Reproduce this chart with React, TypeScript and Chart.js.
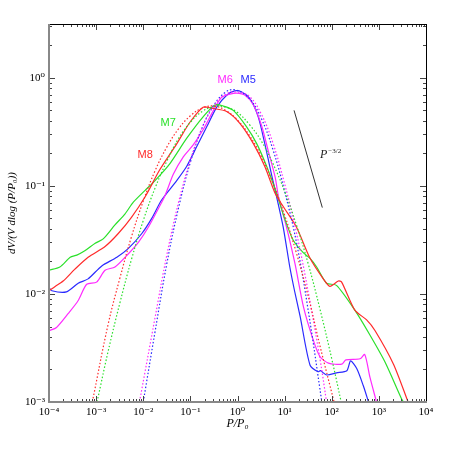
import React, { useEffect, useRef } from 'react';
import { Chart, registerables } from 'chart.js';

Chart.register(...registerables);

// Axis ranges
const X_MIN = 1e-4;
const X_MAX = 1e4;
const Y_MIN = 1e-3;
const Y_MAX = 3.16;

// All curve values are log10 of P/P0 and of dV/(V dlog(P/P0)).
// M5 (blue) simulation
const m5LogP = [-4, -3.94, -3.63, -3.38, -3.17, -2.88, -2.56, -2.32, -2.03, -1.82, -1.61, -1.29, -1.08, -0.87, -0.65, -0.44, -0.23, -0.06, 0.09, 0.26, 0.44, 0.58, 0.72, 0.83, 0.97, 1.11, 1.21, 1.33, 1.54, 1.71, 1.76, 1.89, 2.10, 2.32, 2.40, 2.53, 2.67, 2.78];
const m5LogV = [-1.94, -1.97, -1.98, -1.90, -1.86, -1.74, -1.66, -1.58, -1.44, -1.30, -1.13, -0.95, -0.82, -0.64, -0.45, -0.27, -0.16, -0.12, -0.13, -0.19, -0.36, -0.61, -0.89, -1.10, -1.38, -1.75, -1.97, -2.21, -2.66, -2.72, -2.71, -2.75, -2.73, -2.71, -2.62, -2.69, -2.85, -3.0];
// M6 (magenta)
const m6LogP = [-4, -3.84, -3.59, -3.38, -3.20, -2.99, -2.81, -2.60, -2.32, -2.10, -1.89, -1.68, -1.54, -1.36, -1.15, -0.94, -0.73, -0.51, -0.34, -0.16, -0.02, 0.16, 0.34, 0.51, 0.65, 0.80, 0.87, 1.04, 1.22, 1.40, 1.61, 1.75, 1.93, 2.21, 2.30, 2.60, 2.70, 2.81, 2.95];
const m6LogV = [-2.34, -2.31, -2.18, -2.06, -1.91, -1.89, -1.78, -1.75, -1.63, -1.52, -1.38, -1.21, -1.09, -0.89, -0.73, -0.62, -0.48, -0.30, -0.18, -0.15, -0.14, -0.16, -0.25, -0.44, -0.67, -0.92, -1.10, -1.38, -1.72, -2.12, -2.43, -2.58, -2.64, -2.65, -2.61, -2.60, -2.56, -2.77, -3.0];
// M7 (green)
const m7LogP = [-4, -3.77, -3.55, -3.41, -3.24, -3.02, -2.85, -2.60, -2.39, -2.21, -1.96, -1.75, -1.43, -1.08, -0.73, -0.48, -0.30, -0.09, 0.19, 0.41, 0.62, 0.83, 1.0, 1.18, 1.40, 1.54, 1.68, 1.89, 2.10, 2.49, 2.81, 3.13, 3.48, 3.52];
const m7LogV = [-1.78, -1.75, -1.66, -1.64, -1.60, -1.53, -1.49, -1.36, -1.26, -1.15, -1.04, -0.95, -0.79, -0.56, -0.36, -0.25, -0.26, -0.30, -0.45, -0.61, -0.82, -1.07, -1.30, -1.50, -1.62, -1.67, -1.75, -1.90, -1.92, -2.15, -2.38, -2.63, -2.97, -3.0];
// M8 (red)
const m8LogP = [-4, -3.87, -3.70, -3.45, -3.17, -2.81, -2.53, -2.25, -1.96, -1.65, -1.29, -1.01, -0.73, -0.55, -0.23, 0.05, 0.34, 0.58, 0.80, 0.97, 1.25, 1.54, 1.82, 1.96, 2.14, 2.21, 2.49, 2.74, 2.92, 3.31, 3.62];
const m8LogV = [-1.97, -1.93, -1.88, -1.77, -1.66, -1.56, -1.44, -1.29, -1.10, -0.85, -0.61, -0.41, -0.27, -0.28, -0.31, -0.42, -0.61, -0.82, -1.07, -1.19, -1.38, -1.67, -1.86, -1.93, -1.88, -1.89, -2.15, -2.24, -2.34, -2.65, -3.0];

// Dotted lognormal fits
const m5FitLogP = [-2.0, -1.75, -1.5, -1.25, -1.0, -0.75, -0.5, -0.25, -0.05, 0.25, 0.5, 0.75, 1.0, 1.25, 1.5, 1.79];
const m5FitLogV = [-3.0, -2.35, -1.72, -1.2, -0.78, -0.46, -0.25, -0.13, -0.11, -0.19, -0.37, -0.66, -1.05, -1.52, -2.15, -3.0];
const m6FitLogP = [-2.08, -1.75, -1.5, -1.25, -1.0, -0.75, -0.5, -0.25, 0.0, 0.25, 0.5, 0.75, 1.0, 1.25, 1.5, 1.75, 1.89];
const m6FitLogV = [-3.0, -2.22, -1.64, -1.15, -0.76, -0.46, -0.26, -0.15, -0.13, -0.17, -0.33, -0.6, -0.98, -1.43, -1.98, -2.6, -3.0];
const m7FitLogP = [-2.98, -2.75, -2.5, -2.25, -2.0, -1.75, -1.5, -1.25, -1.0, -0.75, -0.5, -0.25, 0, 0.25, 0.5, 0.75, 1.0, 1.25, 1.5, 1.75, 2.0, 2.2];
const m7FitLogV = [-3.0, -2.54, -2.09, -1.68, -1.32, -1.02, -0.77, -0.56, -0.41, -0.31, -0.265, -0.27, -0.32, -0.43, -0.58, -0.79, -1.05, -1.36, -1.72, -2.14, -2.60, -3.0];
const m8FitLogP = [-3.08, -2.75, -2.5, -2.25, -2.0, -1.75, -1.5, -1.25, -1.0, -0.75, -0.5, -0.25, 0, 0.25, 0.5, 0.75, 1.0, 1.25, 1.5, 1.75, 2.05];
const m8FitLogV = [-3.0, -2.29, -1.86, -1.47, -1.14, -0.86, -0.64, -0.47, -0.35, -0.28, -0.26, -0.30, -0.39, -0.53, -0.72, -0.97, -1.27, -1.62, -2.02, -2.48, -3.0];

// Reference slope line P^-3/2
const slopeLogP = [1.20, 1.80];
const slopeLogV = [-0.30, -1.20];

// Series labels (text, colour, log position)
const seriesNames = ['M5', 'M6', 'M7', 'M8'];
const seriesColors = ['#2a2aff', '#ff2aff', '#2ae02a', '#ff2a2a'];
const nameLogP = [0.225, -0.26, -1.47, -1.96];
const nameLogV = [-0.02, -0.02, -0.417, -0.71];
const slopeTextLogP = 1.75;
const slopeTextLogV = -0.70;

const SERIF = '"Liberation Serif", "DejaVu Serif", serif';
const SANS = '"Liberation Sans", Arial, sans-serif';

const SUP: Record<string, string> = { '-': '⁻', '0': '⁰', '1': '¹', '2': '²', '3': '³', '4': '⁴', '5': '⁵' };

function toPoints(lp: number[], lv: number[]) {
  return lp.map((p, i) => ({ x: Math.pow(10, p), y: Math.pow(10, lv[i]) }));
}

function logTicks(min: number, max: number) {
  const out: { value: number; major: boolean }[] = [];
  const e0 = Math.floor(Math.log10(min) + 1e-9);
  const e1 = Math.ceil(Math.log10(max) - 1e-9);
  for (let e = e0; e <= e1; e++) {
    for (let k = 1; k <= 9; k++) {
      const v = k * Math.pow(10, e);
      if (v >= min * 0.999999 && v <= max * 1.000001) out.push({ value: v, major: k === 1 });
    }
  }
  return out;
}

function isDecade(v: number) {
  const l = Math.log10(v);
  return Math.abs(l - Math.round(l)) < 1e-6;
}

function decadeLabel(v: number) {
  if (!isDecade(v)) return '';
  const e = String(Math.round(Math.log10(v)));
  return '10' + e.split('').map((c) => SUP[c] || c).join('');
}

const framePlugin = {
  id: 'frameTicks',
  afterDraw(chart: any) {
    const { ctx, chartArea: a, scales } = chart;
    const xs = scales.x;
    const ys = scales.y;
    ctx.save();
    ctx.strokeStyle = '#444';
    ctx.lineWidth = 1;
    ctx.beginPath();
    for (const t of xs.ticks) {
      const px = Math.round(xs.getPixelForValue(t.value)) + 0.5;
      const len = isDecade(t.value) ? 6 : 3;
      ctx.moveTo(px, a.bottom);
      ctx.lineTo(px, a.bottom - len);
      ctx.moveTo(px, a.top);
      ctx.lineTo(px, a.top + len);
    }
    for (const t of ys.ticks) {
      const py = Math.round(ys.getPixelForValue(t.value)) + 0.5;
      const len = isDecade(t.value) ? 6 : 3;
      ctx.moveTo(a.left, py);
      ctx.lineTo(a.left + len, py);
      ctx.moveTo(a.right, py);
      ctx.lineTo(a.right - len, py);
    }
    ctx.stroke();
    ctx.strokeStyle = '#000';
    ctx.lineWidth = 1;
    ctx.beginPath();
    ctx.moveTo(a.left, a.top + 0.5);
    ctx.lineTo(a.right, a.top + 0.5);
    ctx.moveTo(a.right + 0.5, a.top);
    ctx.lineTo(a.right + 0.5, a.bottom);
    ctx.stroke();
    ctx.strokeStyle = '#888';
    ctx.lineWidth = 2;
    ctx.beginPath();
    ctx.moveTo(a.left, a.top);
    ctx.lineTo(a.left, a.bottom);
    ctx.lineTo(a.right + 1, a.bottom);
    ctx.stroke();
    ctx.restore();
  },
  afterDatasetsDraw(chart: any) {
    const { ctx, scales } = chart;
    const xs = scales.x;
    const ys = scales.y;
    ctx.save();
    ctx.font = `11px ${SANS}`;
    ctx.textAlign = 'center';
    ctx.textBaseline = 'middle';
    seriesNames.forEach((n, i) => {
      ctx.fillStyle = seriesColors[i];
      ctx.fillText(n, xs.getPixelForValue(Math.pow(10, nameLogP[i])), ys.getPixelForValue(Math.pow(10, nameLogV[i])));
    });
    const px = xs.getPixelForValue(Math.pow(10, slopeTextLogP));
    const py = ys.getPixelForValue(Math.pow(10, slopeTextLogV));
    ctx.fillStyle = '#222';
    ctx.textAlign = 'left';
    ctx.font = `italic 12px ${SERIF}`;
    ctx.fillText('P', px, py + 1);
    const w = ctx.measureText('P').width;
    ctx.font = `7px ${SERIF}`;
    ctx.fillText('−3/2', px + w + 1, py - 2);
    ctx.restore();
  },
};

export default function App() {
  const ref = useRef<HTMLCanvasElement>(null);
  useEffect(() => {
    const solid = (label: string, lp: number[], lv: number[], color: string) => ({
      label,
      data: toPoints(lp, lv),
      borderColor: color,
      borderWidth: 1.2,
      pointRadius: 0,
      tension: 0.25,
      fill: false,
    });
    const dotted = (label: string, lp: number[], lv: number[], color: string) => ({
      label,
      data: toPoints(lp, lv),
      borderColor: color,
      borderWidth: 1.2,
      borderDash: [1.5, 2],
      pointRadius: 0,
      tension: 0.4,
      fill: false,
    });
    const chart = new Chart(ref.current as HTMLCanvasElement, {
      type: 'line',
      data: {
        datasets: [
          dotted('M8 fit', m8FitLogP, m8FitLogV, seriesColors[3]),
          dotted('M7 fit', m7FitLogP, m7FitLogV, seriesColors[2]),
          dotted('M6 fit', m6FitLogP, m6FitLogV, seriesColors[1]),
          dotted('M5 fit', m5FitLogP, m5FitLogV, seriesColors[0]),
          solid('M8', m8LogP, m8LogV, seriesColors[3]),
          solid('M7', m7LogP, m7LogV, seriesColors[2]),
          solid('M6', m6LogP, m6LogV, seriesColors[1]),
          solid('M5', m5LogP, m5LogV, seriesColors[0]),
          {
            label: 'P^-3/2',
            data: toPoints(slopeLogP, slopeLogV),
            borderColor: '#333',
            borderWidth: 1,
            pointRadius: 0,
            tension: 0,
            fill: false,
          },
        ] as any,
      },
      options: {
        responsive: false,
        animation: false,
        devicePixelRatio: 1,
        layout: { padding: { left: 0, right: 24, top: 24, bottom: 0 } },
        plugins: { legend: { display: false }, tooltip: { enabled: false } },
        scales: {
          x: {
            type: 'logarithmic',
            position: 'bottom',
            min: X_MIN,
            max: X_MAX,
            grid: { display: false, drawTicks: false },
            border: { display: false },
            afterBuildTicks: (s: any) => { s.ticks = logTicks(X_MIN, X_MAX); },
            afterFit: (s: any) => { s.height = 48; },
            ticks: {
              autoSkip: false,
              maxRotation: 0,
              minRotation: 0,
              padding: 4,
              color: '#000',
              font: { family: SERIF, size: 11 },
              callback: (v: any) => decadeLabel(Number(v)),
            },
            title: {
              display: true,
              text: 'P/P₀',
              color: '#000',
              font: { family: SERIF, size: 12, style: 'italic' },
              padding: { top: 0, bottom: 19 },
            },
          },
          y: {
            type: 'logarithmic',
            position: 'left',
            min: Y_MIN,
            max: Y_MAX,
            grid: { display: false, drawTicks: false },
            border: { display: false },
            afterBuildTicks: (s: any) => { s.ticks = logTicks(Y_MIN, Y_MAX); },
            afterFit: (s: any) => { s.width = 49; },
            ticks: {
              autoSkip: false,
              padding: 4,
              color: '#000',
              font: { family: SERIF, size: 11 },
              callback: (v: any) => decadeLabel(Number(v)),
            },
            title: {
              display: true,
              text: 'dV/(V dlog (P/P₀))',
              color: '#000',
              font: { family: SERIF, size: 11, style: 'italic' },
              padding: { top: 6, bottom: 0 },
            },
          },
        },
      } as any,
      plugins: [framePlugin],
    });
    return () => chart.destroy();
  }, []);
  return (
    <div style={{ position: 'absolute', left: 0, top: 0, width: 450, height: 450, background: '#fff' }}>
      <canvas ref={ref} width={450} height={450} style={{ display: 'block', width: 450, height: 450 }} />
    </div>
  );
}
